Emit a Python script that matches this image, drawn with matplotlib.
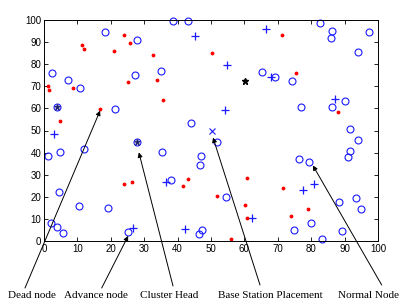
import matplotlib
matplotlib.use("Agg")
import matplotlib.pyplot as plt

# ---- data ----
normal_x = [2.5, 7.2, 10.7, 18.2, 27.9, 27.2, 21.3, 38.7, 43.2, 34.9, 65.2, 82.6, 86.1, 85.9, 97.3,
            93.9, 69.2, 74.3, 90.1, 86.3, 76.9, 1.1, 4.9, 12.1, 4.4, 10.4, 19.2, 2.0, 4.0, 5.6,
            44.0, 51.7, 35.3, 47.0, 46.7, 38.0, 54.4, 47.2, 46.5, 91.6, 94.1, 91.5, 90.9, 76.4,
            79.4, 88.3, 93.5, 94.8, 79.8, 74.9, 89.3, 83.3, 25.2]
normal_y = [76.0, 73.0, 69.4, 94.7, 91.0, 75.0, 59.6, 99.5, 99.5, 77.0, 76.6, 98.6, 95.0, 91.7, 94.6,
            85.6, 74.4, 72.2, 63.4, 60.7, 60.5, 38.3, 40.1, 41.8, 22.1, 15.9, 14.9, 8.0, 6.5, 3.5,
            53.5, 44.6, 40.1, 38.3, 34.5, 27.5, 19.8, 5.0, 3.0, 50.8, 45.5, 40.7, 38.0, 37.2,
            35.6, 17.7, 19.5, 14.4, 8.2, 5.0, 4.5, 0.8, 4.2]

advance_x = [45.2, 54.7, 54.2, 66.5, 68.0, 87.2, 3.1, 26.7, 36.5, 62.4, 42.2, 77.6, 80.8]
advance_y = [92.8, 79.7, 59.3, 96.0, 74.3, 64.1, 48.5, 5.7, 26.5, 10.2, 5.4, 23.3, 25.8]

dead_x = [1.1, 1.6, 8.8, 11.5, 12.0, 21.0, 24.0, 25.8, 25.2, 16.8, 32.5, 33.9, 35.7, 50.2, 71.3,
          75.5, 87.9, 4.9, 24.0, 26.4, 43.2, 41.7, 60.7, 51.8, 60.3, 60.7, 55.9, 71.7, 79.1, 73.9]
dead_y = [70.0, 68.3, 69.2, 88.6, 87.1, 86.0, 93.0, 89.6, 72.0, 59.6, 84.0, 73.0, 64.0, 85.0, 93.1,
          76.0, 58.2, 54.2, 26.0, 26.9, 28.2, 24.9, 28.5, 20.4, 16.4, 10.5, 0.8, 24.0, 14.4, 11.4]

head_x = [4.0, 27.9]
head_y = [60.8, 44.7]

black_x = [60.2]
black_y = [72.5]

base_x = [50.2]
base_y = [49.7]

labels = ["Dead node", "Advance node", "Cluster Head", "Base Station Placement", "Normal Node"]
arrow_tip_x = [16.8, 25.2, 28.4, 50.6, 80.5]
arrow_tip_y = [59.0, 2.3, 40.1, 46.8, 34.2]

xticks = list(range(0, 101, 10))
yticks = list(range(0, 101, 10))

# ---- figure ----
fig = plt.figure(figsize=(4.08, 3.08), dpi=100)
ax = fig.add_axes([44/408, 1 - 241/308, (378 - 44)/408, (241 - 20)/308])

blue = "#1a1aff"
ax.plot(normal_x, normal_y, 'o', mfc='none', mec=blue, ms=5, mew=0.8, clip_on=False)
ax.plot(advance_x, advance_y, '+', color=blue, ms=6, mew=0.9, clip_on=False)
ax.plot(dead_x, dead_y, '.', color='red', ms=3.5, clip_on=False)
ax.plot(head_x, head_y, 'o', mfc='none', mec=blue, ms=5, mew=0.8)
ax.plot(head_x, head_y, '*', color='#202070', ms=5, mew=0.6)
ax.plot(black_x, black_y, '*', color='black', ms=4.5)
ax.plot(base_x, base_y, 'x', color=blue, ms=4, mew=0.8)

ax.set_xlim(0, 100)
ax.set_ylim(0, 100)
ax.set_xticks(xticks)
ax.set_yticks(yticks)
ax.tick_params(direction='in', length=3, width=0.6, top=True, right=True,
               labelsize=7, pad=2)
for lab in ax.get_xticklabels() + ax.get_yticklabels():
    lab.set_family("Liberation Sans")
for s in ax.spines.values():
    s.set_linewidth(0.7)

# labels and arrows
label_cx = [31.5, 95.5, 169.5, 270, 368.5]
start_px = [(25, 20), (101.7, 20), (173, 22), (260, 23), (381.7, 23)]
for lab, cx, st, tx, ty in zip(labels, label_cx, start_px, arrow_tip_x, arrow_tip_y):
    fig.text(cx / 408, 13 / 308, lab, ha='center', va='center', fontsize=8,
             family='Liberation Serif')
    ax.annotate('', xy=(tx, ty), xycoords='data', xytext=st, textcoords='figure pixels',
                arrowprops=dict(arrowstyle='-|>', color='black', lw=0.7,
                                mutation_scale=7, shrinkA=0, shrinkB=0),
                annotation_clip=False)

fig.savefig("out.png", dpi=100)
